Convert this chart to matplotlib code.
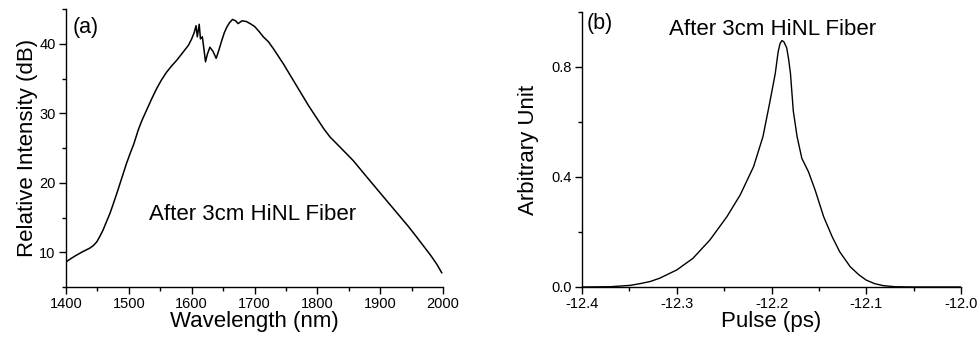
import matplotlib
matplotlib.use("Agg")
import matplotlib.pyplot as plt
from matplotlib.ticker import MultipleLocator, FormatStrFormatter

plt.rcParams['font.family'] = ['Liberation Sans', 'DejaVu Sans']

# Supercontinuum spectrum after the HiNL fiber
wavelength_nm = [1400, 1408, 1417, 1427, 1438, 1444, 1449, 1454, 1459, 1464,
                 1470, 1475, 1481, 1486, 1491, 1496, 1502, 1508, 1515, 1521,
                 1528, 1536, 1544, 1552, 1560, 1568, 1576, 1583, 1589, 1595,
                 1600, 1604, 1607, 1609, 1612, 1614, 1617, 1620, 1622, 1625,
                 1629, 1634, 1639, 1643, 1648, 1652, 1656, 1660, 1665, 1670,
                 1674, 1680, 1687, 1693, 1700, 1706, 1714, 1722, 1730, 1738,
                 1746, 1754, 1762, 1770, 1778, 1786, 1794, 1802, 1810, 1820,
                 1831, 1844, 1857, 1868, 1879, 1892, 1905, 1918, 1932, 1945,
                 1958, 1969, 1980, 1990, 1998]
intensity_db = [8.6, 9.1, 9.6, 10.1, 10.6, 11.0, 11.5, 12.3, 13.2, 14.3,
                15.6, 16.9, 18.5, 19.9, 21.3, 22.7, 24.2, 25.6, 27.6, 29.0,
                30.4, 32.0, 33.5, 34.8, 35.9, 36.8, 37.6, 38.4, 39.1, 39.8,
                40.7, 41.6, 42.6, 41.0, 42.8, 40.7, 41.0, 38.9, 37.4, 38.5,
                39.5, 38.9, 37.9, 39.0, 40.5, 41.6, 42.4, 43.0, 43.5, 43.3,
                42.9, 43.3, 43.2, 42.9, 42.5, 41.9, 41.0, 40.3, 39.3, 38.2,
                37.1, 35.9, 34.7, 33.5, 32.3, 31.1, 30.0, 28.9, 27.8, 26.6,
                25.6, 24.4, 23.2, 22.0, 20.8, 19.4, 18.0, 16.6, 15.1, 13.7,
                12.2, 10.9, 9.6, 8.3, 7.05]

# Retrieved pulse profile
pulse_ps = [-12.400, -12.370, -12.349, -12.339, -12.328, -12.318, -12.300,
            -12.283, -12.265, -12.247, -12.233, -12.219, -12.209, -12.202,
            -12.196, -12.193, -12.191, -12.189, -12.187, -12.184, -12.182,
            -12.180, -12.177, -12.173, -12.168, -12.161, -12.154, -12.145,
            -12.136, -12.128, -12.117, -12.108, -12.100, -12.091, -12.082,
            -12.070, -12.050, -12.020, -12.000]
amplitude = [0.000, 0.001, 0.006, 0.012, 0.020, 0.032, 0.062,
             0.104, 0.171, 0.256, 0.335, 0.437, 0.547, 0.668,
             0.777, 0.855, 0.885, 0.896, 0.892, 0.870, 0.830,
             0.777, 0.640, 0.547, 0.468, 0.419, 0.353, 0.256,
             0.183, 0.128, 0.074, 0.045, 0.025, 0.012, 0.005,
             0.001, 0.000, 0.000, 0.000]

W, H = 980, 340
fig = plt.figure(figsize=(W / 100, H / 100), dpi=100)


def px_axes(x0, y0, x1, y1):
    return fig.add_axes([x0 / W, 1 - y1 / H, (x1 - x0) / W, (y1 - y0) / H])


def style(ax):
    for s in ('top', 'right'):
        ax.spines[s].set_visible(False)
    for s in ('left', 'bottom'):
        ax.spines[s].set_linewidth(1.0)
    ax.tick_params(which='major', direction='out', length=5, width=1,
                   labelsize=10.5, pad=2.5)
    ax.tick_params(which='minor', direction='out', length=3, width=1)


# (a) spectrum
ax1 = px_axes(66, 9, 443, 287)
ax1.plot(wavelength_nm, intensity_db, color='black', lw=1.1)
ax1.set_xlim(1400, 2000)
ax1.set_ylim(5, 45)
ax1.xaxis.set_major_locator(MultipleLocator(100))
ax1.xaxis.set_minor_locator(MultipleLocator(50))
ax1.yaxis.set_major_locator(MultipleLocator(10))
ax1.yaxis.set_minor_locator(MultipleLocator(5))
style(ax1)
ax1.set_xlabel('Wavelength (nm)', fontsize=16, labelpad=0)
ax1.set_ylabel('Relative Intensity (dB)', fontsize=16, labelpad=1)
ax1.text(0.018, 0.97, '(a)', transform=ax1.transAxes, fontsize=15.5,
         ha='left', va='top')
ax1.text(0.22, 0.26, 'After 3cm HiNL Fiber', transform=ax1.transAxes,
         fontsize=16, ha='left', va='center')

# (b) pulse
ax2 = px_axes(582, 12, 961, 287)
ax2.plot(pulse_ps, amplitude, color='black', lw=1.0)
ax2.set_xlim(-12.4, -12.0)
ax2.set_ylim(0, 1.0)
ax2.xaxis.set_major_locator(MultipleLocator(0.1))
ax2.xaxis.set_minor_locator(MultipleLocator(0.05))
ax2.yaxis.set_major_locator(MultipleLocator(0.4))
ax2.yaxis.set_minor_locator(MultipleLocator(0.2))
ax2.xaxis.set_major_formatter(FormatStrFormatter('%.1f'))
ax2.yaxis.set_major_formatter(FormatStrFormatter('%.1f'))
style(ax2)
ax2.set_xlabel('Pulse (ps)', fontsize=16, labelpad=0)
ax2.set_ylabel('Arbitrary Unit', fontsize=16, labelpad=9)
ax2.text(0.013, 0.995, '(b)', transform=ax2.transAxes, fontsize=15.5,
         ha='left', va='top')
ax2.text(0.23, 0.935, 'After 3cm HiNL Fiber', transform=ax2.transAxes,
         fontsize=16, ha='left', va='center')

fig.savefig('out.png', dpi=100)
